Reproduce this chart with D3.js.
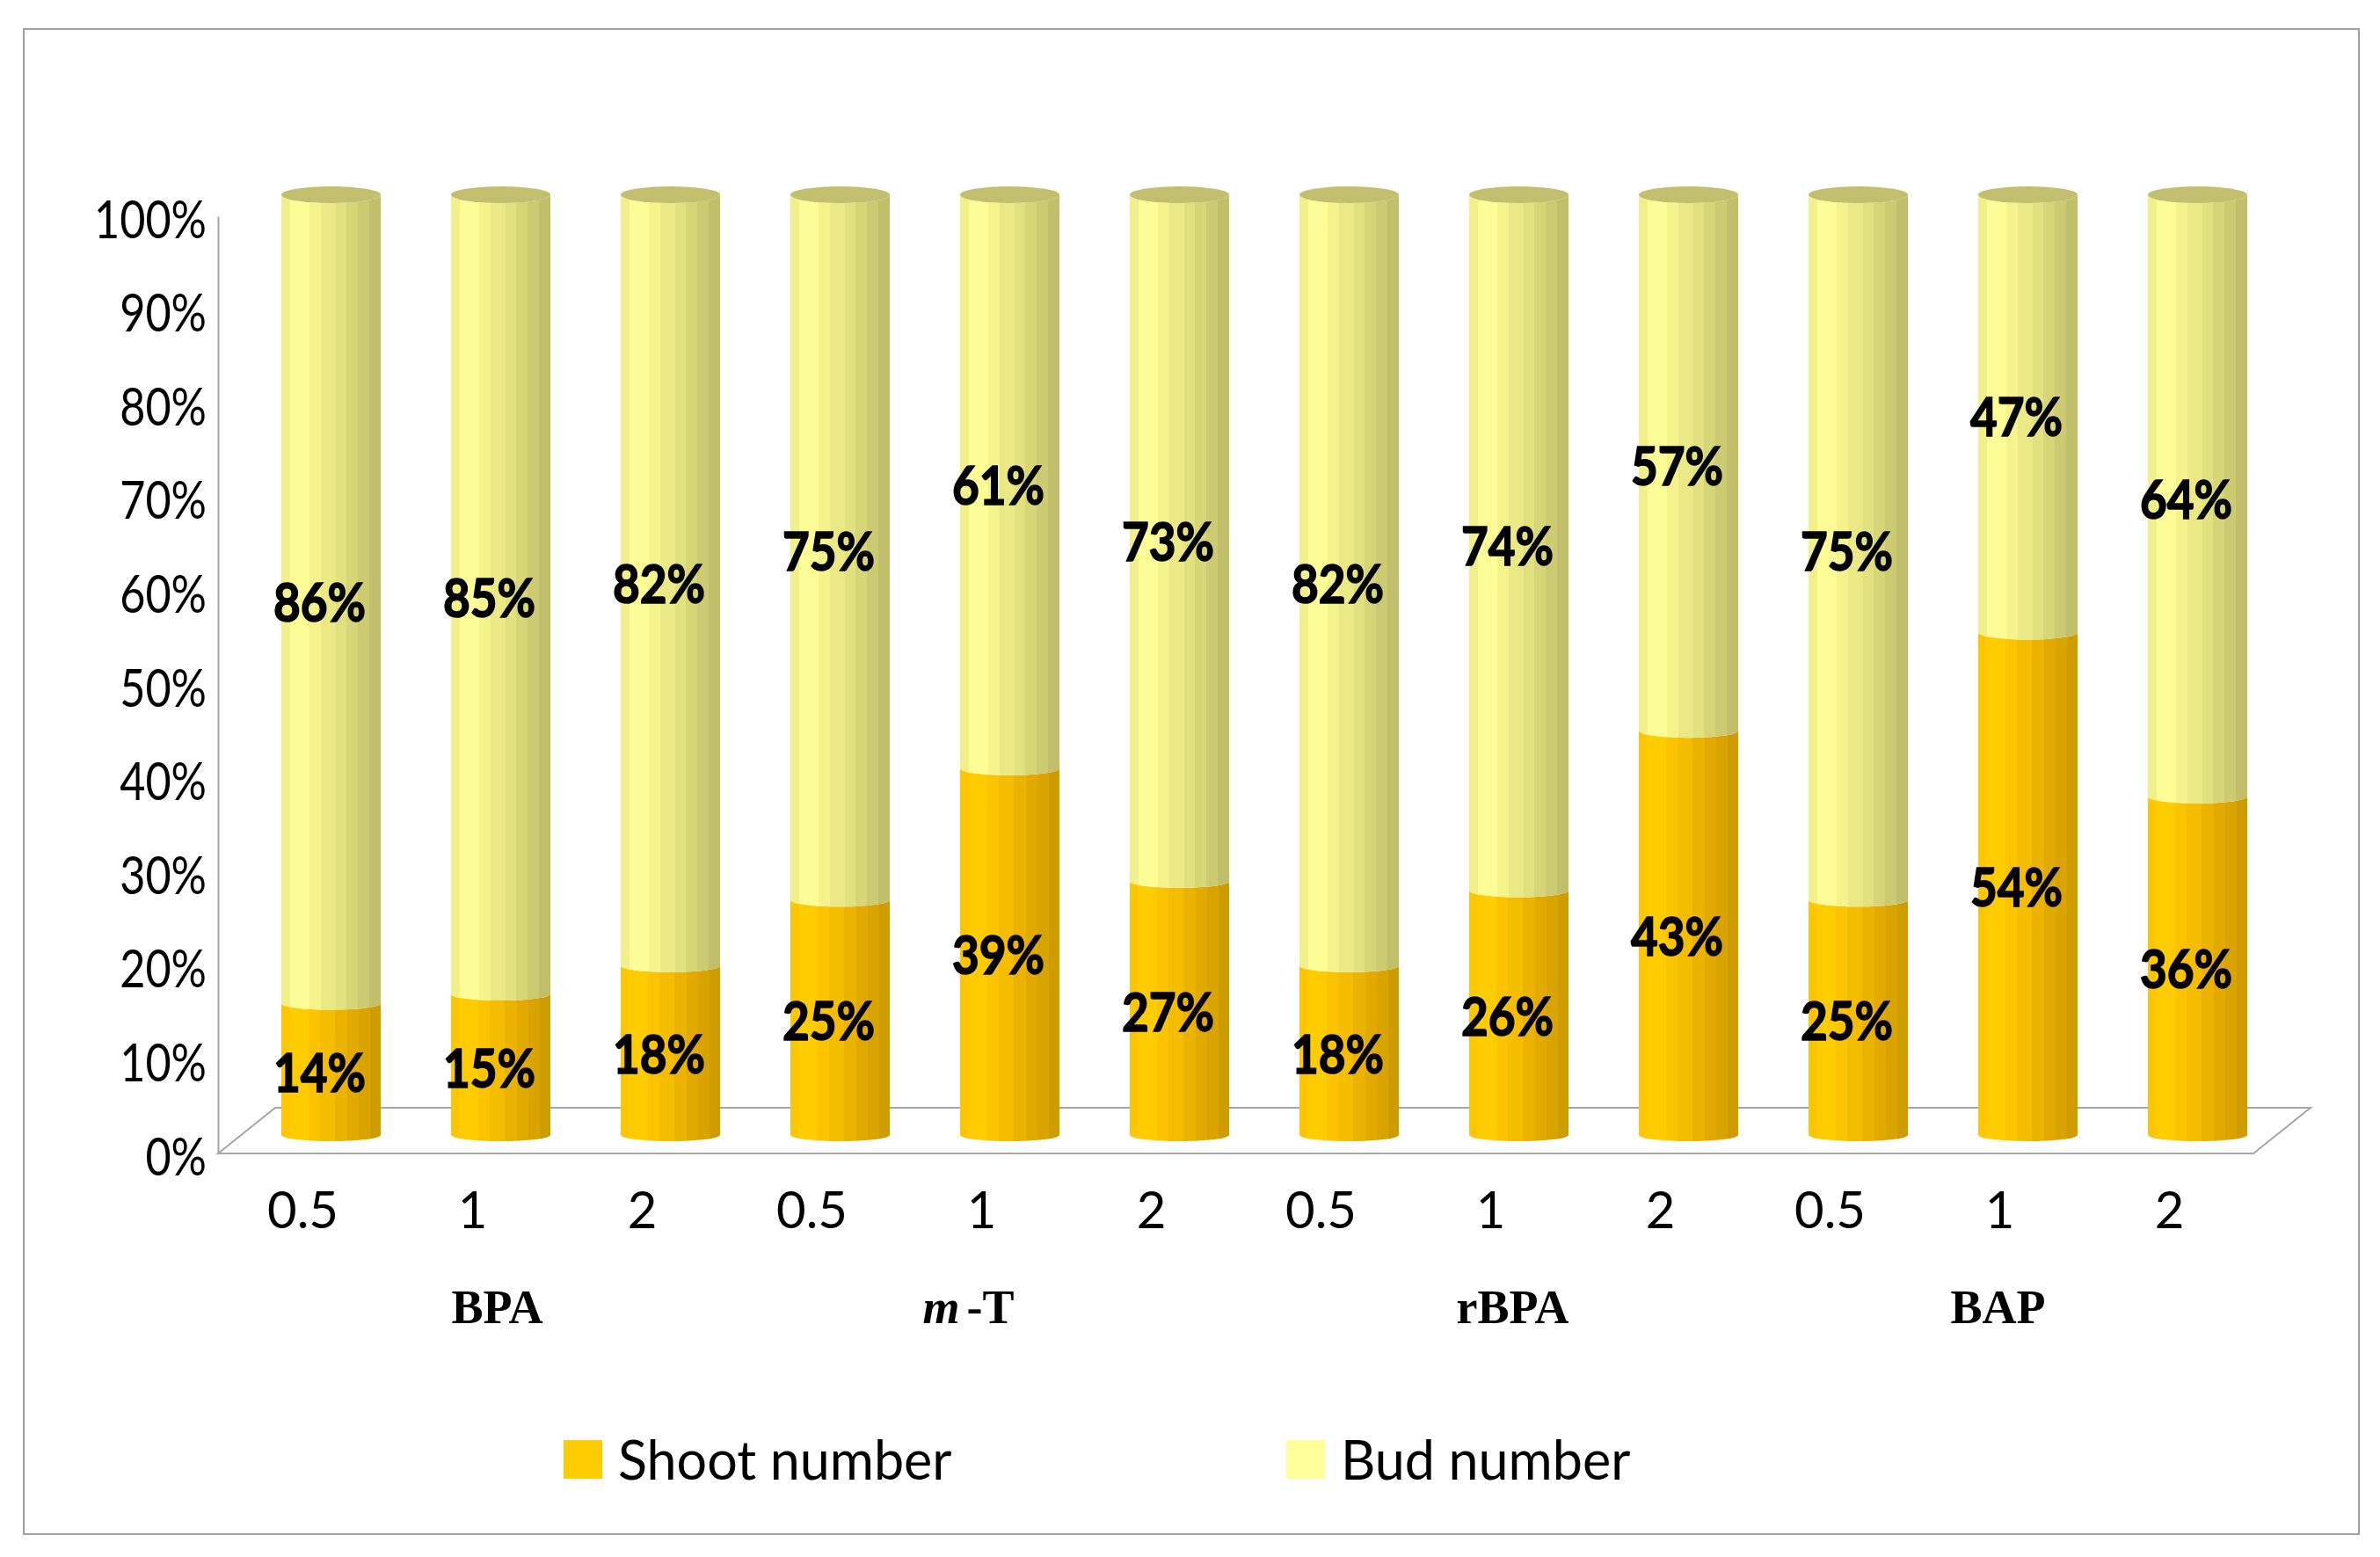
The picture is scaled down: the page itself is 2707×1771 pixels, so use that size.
<!DOCTYPE html>
<html>
<head>
<meta charset="utf-8">
<script src="https://cdn.jsdelivr.net/npm/d3@7"></script>
<style>
  body { margin: 0; background: #fff; }
  svg { display: block; }
</style>
</head>
<body>
<svg id="chart"></svg>
<script>
// chart data
var groups = ["BPA", "m-T", "rBPA", "BAP"];
var concentrations = ["0.5", "1", "2"];
var shootPct = [14, 15, 18, 25, 39, 27, 18, 26, 43, 25, 54, 36];
var budPct = [86, 85, 82, 75, 61, 73, 82, 74, 57, 75, 47, 64];
var seriesKeys = ["shoot", "bud"];
var seriesNames = ["Shoot number", "Bud number"];
var yTicks = [0, 0.1, 0.2, 0.3, 0.4, 0.5, 0.6, 0.7, 0.8, 0.9, 1];

var W = 2707, H = 1771;
var svg = d3.select("#chart").attr("width", W).attr("height", H);

// rows: one per bar
var rows = [];
groups.forEach(function(g, gi) {
  concentrations.forEach(function(c, ci) {
    var i = gi * concentrations.length + ci;
    rows.push({id: i, group: g, conc: c, shoot: shootPct[i], bud: budPct[i]});
  });
});

var stack = d3.stack().keys(seriesKeys).offset(d3.stackOffsetExpand);
var stacked = stack(rows);

var x = d3.scaleBand()
  .domain(rows.map(function(d) { return d.id; }))
  .range([280, 2596])
  .paddingInner(0.4145)
  .paddingOuter(0.4145 / 2);

// bars sit at mid depth, axis on the front plane
var yBar = d3.scaleLinear().domain([0, 1]).range([1291, 221.5]);
var yFront = d3.scaleLinear().domain([0, 1]).range([1312, 246]);
var depth = {dx: 65, dy: -52};

// stripe gradients (faceted cylinders)
var stripes = {
  shoot: [[0, "#fdc600"], [0.084, "#ffcc00"], [0.27, "#fcc400"], [0.39, "#f5bd00"], [0.54, "#ebb300"], [0.66, "#e2aa00"], [0.78, "#d9a300"], [0.89, "#cf9c00"]],
  bud: [[0, "#f2f08a"], [0.089, "#fdfd98"], [0.281, "#f4f38c"], [0.40, "#eae985"], [0.547, "#e2e17f"], [0.657, "#d6d577"], [0.769, "#cccb72"], [0.888, "#c1bf6b"]]
};
var swatch = {shoot: "#ffcc00", bud: "#ffff99"};

var defs = svg.append("defs");
seriesKeys.forEach(function(k) {
  var lg = defs.append("linearGradient").attr("id", "grad-" + k)
    .attr("x1", 0).attr("x2", 1).attr("y1", 0).attr("y2", 0);
  var s = stripes[k];
  s.forEach(function(st, i) {
    var end = i < s.length - 1 ? s[i + 1][0] : 1;
    lg.append("stop").attr("offset", st[0]).attr("stop-color", st[1]);
    lg.append("stop").attr("offset", end).attr("stop-color", st[1]);
  });
});

svg.append("rect").attr("x", 0).attr("y", 0).attr("width", W).attr("height", H).attr("fill", "#fff");

// outer border
svg.append("rect")
  .attr("x", 27).attr("y", 33).attr("width", 2656).attr("height", 1712)
  .attr("fill", "none").attr("stroke", "#a0a0a0").attr("stroke-width", 2);

// floor
var x0 = 248, x1 = 2563, yf = yFront(0);
svg.append("path")
  .attr("d", "M" + x0 + "," + yf + "L" + x1 + "," + yf + "L" + (x1 + depth.dx) + "," + (yf + depth.dy) +
    "L" + (x0 + depth.dx) + "," + (yf + depth.dy) + "Z")
  .attr("fill", "none").attr("stroke", "#a6a6a6").attr("stroke-width", 2);

// y axis
var yAxis = svg.append("g")
  .attr("transform", "translate(" + x0 + ",0)")
  .call(d3.axisLeft(yFront).tickValues(yTicks).tickFormat(d3.format(".0%")).tickSize(0).tickSizeOuter(0).tickPadding(13));
yAxis.select(".domain").attr("stroke", "#a6a6a6").attr("stroke-width", 2);
yAxis.selectAll("text")
  .attr("font-family", "Lato, 'Open Sans', sans-serif")
  .attr("font-size", 60)
  .attr("fill", "#000")
  .attr("dy", "0.4em")
  .attr("transform", "translate(-13,0) scale(0.84,1) translate(13,0)");

// x axis (concentrations)
var xAxis = svg.append("g")
  .attr("transform", "translate(-32," + 1355 + ")")
  .call(d3.axisBottom(x).tickFormat(function(i) { return rows[i].conc; }).tickSize(0).tickPadding(0));
xAxis.select(".domain").remove();
xAxis.selectAll("text")
  .attr("font-family", "Lato, 'Open Sans', sans-serif")
  .attr("font-size", 58)
  .attr("fill", "#000")
  .attr("dy", "0.72em");

function ry(v) { return 7 + 2.5 * v; }

function segPath(cx, rx, v0, v1) {
  var yb = yBar(v0), yt = yBar(v1);
  return "M" + (cx - rx) + "," + yt +
    "A" + rx + "," + ry(v1) + " 0 0 0 " + (cx + rx) + "," + yt +
    "L" + (cx + rx) + "," + yb +
    "A" + rx + "," + ry(v0) + " 0 0 1 " + (cx - rx) + "," + yb + "Z";
}

var rx = x.bandwidth() / 2;
var bars = svg.append("g");
stacked.forEach(function(layer) {
  bars.selectAll(".seg-" + layer.key)
    .data(layer)
    .enter()
    .append("path")
    .attr("class", "seg-" + layer.key)
    .attr("fill", "url(#grad-" + layer.key + ")")
    .attr("d", function(d, i) {
      return segPath(x(i) + rx, rx, d[0], d[1]);
    });
});

// top caps
bars.selectAll(".cap")
  .data(rows)
  .enter()
  .append("ellipse")
  .attr("class", "cap")
  .attr("cx", function(d) { return x(d.id) + rx; })
  .attr("cy", yBar(1))
  .attr("rx", rx)
  .attr("ry", ry(1))
  .attr("fill", "#c2bf6e");

// value labels
var labels = svg.append("g");
stacked.forEach(function(layer) {
  labels.selectAll(".lbl-" + layer.key)
    .data(layer)
    .enter()
    .append("text")
    .attr("transform", function(d, i) {
      var cx = x(i) + rx - 13;
      var cy = yBar((d[0] + d[1]) / 2) + 4;
      return "translate(" + cx + "," + cy + ") scale(0.87,1)";
    })
    .attr("text-anchor", "middle")
    .attr("dy", "0.36em")
    .attr("font-family", "Lato, 'Open Sans', sans-serif")
    .attr("font-weight", "bold")
    .attr("font-size", 61)
    .attr("fill", "#000")
    .attr("stroke", "#000")
    .attr("stroke-width", 1.6)
    .text(function(d) { return d.data[layer.key] + "%"; });
});

// group labels
var groupNudge = [-4, -47, -7, -34];
var glabels = svg.append("g")
  .attr("font-family", "'Liberation Serif', 'Times New Roman', serif")
  .attr("font-weight", "bold")
  .attr("font-size", 54)
  .attr("fill", "#000");
groups.forEach(function(g, gi) {
  var mid = gi * concentrations.length + 1;
  var t = glabels.append("text")
    .attr("x", x(mid) + rx + groupNudge[gi])
    .attr("y", 1505)
    .attr("text-anchor", "middle");
  if (g.indexOf("m-") === 0) {
    t.append("tspan").attr("font-style", "italic").text("m");
    t.append("tspan").attr("dx", 8).text(g.slice(1));
  } else {
    t.text(g);
  }
});

// legend
var legendX = [641, 1463];
var legend = svg.append("g");
seriesKeys.forEach(function(k, i) {
  legend.append("rect")
    .attr("x", legendX[i]).attr("y", 1638)
    .attr("width", 44).attr("height", 44)
    .attr("fill", swatch[k]);
  legend.append("text")
    .attr("x", legendX[i] + 62).attr("y", 1683)
    .attr("font-family", "Lato, 'Open Sans', sans-serif")
    .attr("font-size", 61)
    .attr("fill", "#000")
    .text(seriesNames[i]);
});
</script>
</body>
</html>
